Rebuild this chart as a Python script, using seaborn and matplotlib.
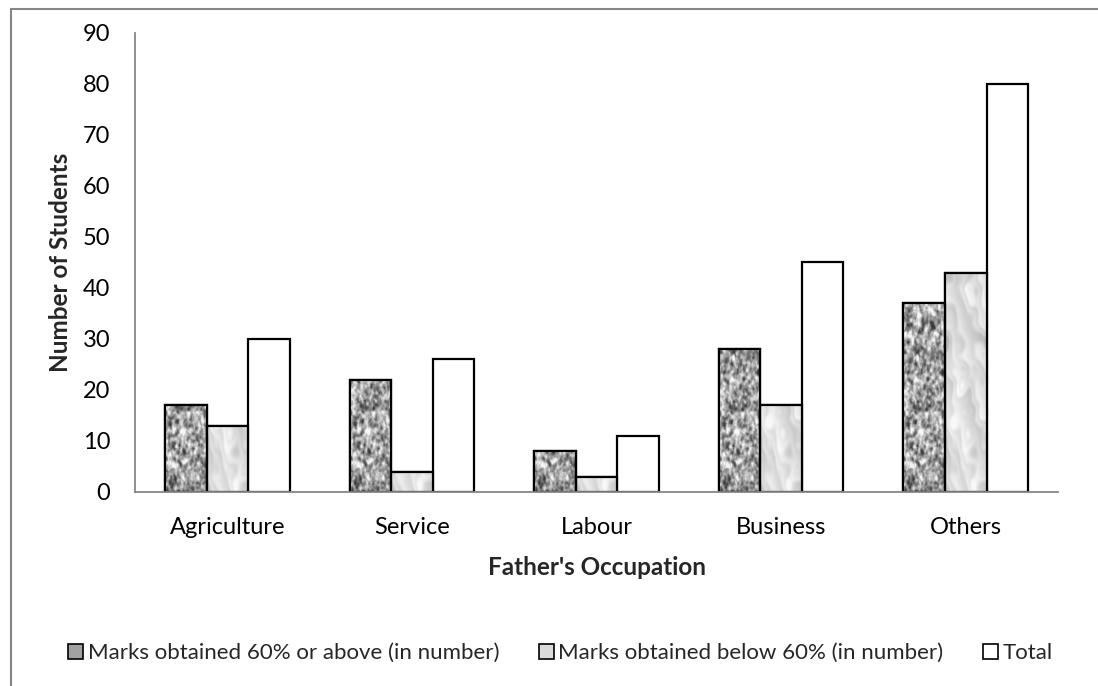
import numpy as np
import pandas as pd
import matplotlib
matplotlib.use("Agg")
import matplotlib.pyplot as plt
from matplotlib.patches import Patch, Rectangle
import seaborn as sns

categories = ["Agriculture", "Service", "Labour", "Business", "Others"]
above_60 = [17, 22, 8, 28, 37]
below_60 = [13, 4, 3, 17, 43]
total = [30, 26, 11, 45, 80]
series_names = [
    "Marks obtained 60% or above (in number)",
    "Marks obtained below 60% (in number)",
    "Total",
]

df = pd.DataFrame({
    "Occupation": categories * 3,
    "Series": [series_names[0]] * 5 + [series_names[1]] * 5 + [series_names[2]] * 5,
    "Count": above_60 + below_60 + total,
})

sns.set_theme(style="white")
plt.rcParams["font.family"] = ["Lato", "DejaVu Sans"]

AXIS_GREY = "#868686"

fig = plt.figure(figsize=(10.98, 6.86), dpi=100)
ax = fig.add_axes([0.123, 0.2828, 0.8406, 0.6691])

sns.barplot(data=df, x="Occupation", y="Count", hue="Series",
            palette=["#9a9a9a", "#dcdcdc", "white"], width=0.675,
            edgecolor="black", linewidth=1.6, ax=ax, legend=False, saturation=1)


def smooth_noise(shape, sigma, rng):
    noise = rng.standard_normal(shape)
    ky = np.fft.fftfreq(shape[0])[:, None]
    kx = np.fft.fftfreq(shape[1])[None, :]
    filt = np.exp(-2 * (np.pi * sigma) ** 2 * (kx ** 2 + ky ** 2))
    out = np.real(np.fft.ifft2(np.fft.fft2(noise) * filt))
    return (out - out.mean()) / out.std()


# granite and marble fill textures for the first two series
rng = np.random.default_rng(7)
granite = 0.64 + 0.16 * smooth_noise((400, 60), 1.4, rng) + 0.06 * smooth_noise((400, 60), 0.6, rng)
granite = np.clip(granite, 0.22, 0.97)
yy, xx = np.mgrid[0:400, 0:60]
streak = smooth_noise((400, 60), 5.0, rng)
marble = 0.87 + 0.04 * streak + 0.03 * np.sin((xx * 0.35 + yy * 0.18) + 2.5 * streak)
marble = np.clip(marble, 0.72, 0.97)

textures = [granite, marble]
n = len(categories)
for i, bar in enumerate(ax.patches[: 2 * n]):
    tex = textures[i // n]
    x0, y0 = bar.get_x(), bar.get_y()
    w, h = bar.get_width(), bar.get_height()
    rows = max(4, int(400 * h / 90))
    img = ax.imshow(tex[:rows], cmap="gray", vmin=0, vmax=1, aspect="auto",
                    extent=(x0, x0 + w, y0, y0 + h), origin="lower",
                    interpolation="bilinear", zorder=bar.get_zorder() + 0.1)
    img.set_clip_path(bar)
    bar.set_facecolor("none")
    ax.add_patch(Rectangle((x0, y0), w, h, facecolor="none", edgecolor="black",
                           linewidth=1.6, zorder=bar.get_zorder() + 0.2))

ax.set_xlim(-0.5, n - 0.5)
ax.set_ylim(0, 90)
ax.set_yticks(range(0, 91, 10))
ax.set_xticks(range(n))
ax.set_xticklabels(categories)
ax.tick_params(axis="both", which="major", labelsize=17, colors=AXIS_GREY,
               labelcolor="black")
ax.tick_params(axis="y", length=5.8, width=1.2, direction="out", pad=12)
ax.tick_params(axis="x", length=0, pad=18)
# category separators on the x axis
ax.set_xticks(np.arange(-0.5, n, 1.0), minor=True)
ax.tick_params(axis="x", which="minor", length=5.8, width=1.2, colors=AXIS_GREY, direction="out")

for s in ["top", "right"]:
    ax.spines[s].set_visible(False)
for s in ["left", "bottom"]:
    ax.spines[s].set_color(AXIS_GREY)
    ax.spines[s].set_linewidth(1.3)

ax.set_xlabel("Father's Occupation", fontsize=17.5, fontweight="bold", labelpad=13)
ax.set_ylabel("Number of Students", fontsize=17.5, fontweight="bold", labelpad=8)

handles = [
    Patch(facecolor="#a2a2a2", edgecolor="black", linewidth=1.2),
    Patch(facecolor="#dadada", edgecolor="black", linewidth=1.2),
    Patch(facecolor="white", edgecolor="black", linewidth=1.2),
]
fig.legend(handles, series_names, loc="center", bbox_to_anchor=(0.5105, 0.048),
           ncol=3, frameon=False, fontsize=16, handlelength=0.66, handleheight=0.66,
           handletextpad=0.2, columnspacing=1.8)

# outer chart frame
fig.add_artist(Rectangle((11 / 1098, -0.01), 1.2, 1 - 9 / 686 + 0.01,
                         transform=fig.transFigure, facecolor="none",
                         edgecolor=AXIS_GREY, linewidth=1.5))

fig.savefig("out.png", dpi=100)
